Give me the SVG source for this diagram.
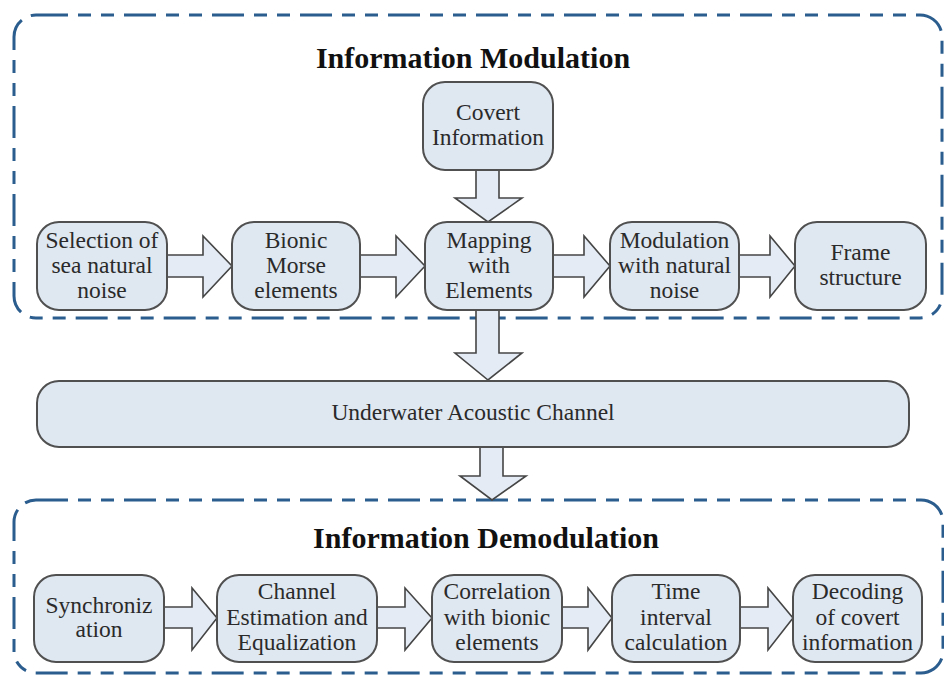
<svg xmlns="http://www.w3.org/2000/svg" width="944" height="675" viewBox="0 0 944 675">
  <style>
    .frame { fill: none; stroke: #2b5d8e; stroke-width: 3; stroke-dasharray: 32 10 13 10 13 10; }
    .box { fill: #dfe7f1; stroke: #505050; stroke-width: 2; }
    .arr { fill: #e4ebf4; stroke: #454545; stroke-width: 1.6; stroke-linejoin: miter; }
    .lbl { font-family: "Liberation Serif", "Times New Roman", serif; font-size: 23.5px; fill: #2a2a2a; text-anchor: middle; }
    .title { font-family: "Liberation Serif", "Times New Roman", serif; font-size: 30px; font-weight: bold; fill: #111; text-anchor: middle; }
  </style>
  <rect width="944" height="675" fill="#ffffff"/>

  <!-- dashed section frames -->
  <g id="modulation-frame">
    <rect class="frame" x="14" y="15" width="928" height="303" rx="22"/>
    <text class="title" x="473" y="68">Information Modulation</text>
  </g>
  <g id="demodulation-frame">
    <rect class="frame" x="14" y="500" width="929" height="173" rx="22"/>
    <text class="title" x="486" y="548">Information Demodulation</text>
  </g>

  <!-- block arrows -->
  <g id="connectors">
    <!-- vertical -->
    <polygon class="arr" points="476,170 499,170 499,198 522,198 488,222 455,198 476,198"/>
    <polygon class="arr" points="476,310 499,310 499,353 522,353 488,380 455,353 476,353"/>
    <polygon class="arr" points="480,447 503,447 503,476 526,476 492,500 460,476 480,476"/>
    <!-- modulation row -->
    <polygon class="arr" points="167,255 203,255 203,236 232,266 203,297 203,277 167,277"/>
    <polygon class="arr" points="360,255 396,255 396,236 425,266 396,297 396,277 360,277"/>
    <polygon class="arr" points="553,255 584,255 584,236 610,266 584,297 584,277 553,277"/>
    <polygon class="arr" points="739,255 770,255 770,236 795,266 770,297 770,277 739,277"/>
    <!-- demodulation row -->
    <polygon class="arr" points="164,607 192,607 192,588 217,618 192,650 192,628 164,628"/>
    <polygon class="arr" points="377,607 405,607 405,588 432,618 405,650 405,628 377,628"/>
    <polygon class="arr" points="562,607 588,607 588,588 612,618 588,650 588,628 562,628"/>
    <polygon class="arr" points="740,607 768,607 768,588 793,618 768,650 768,628 740,628"/>
  </g>

  <!-- modulation nodes -->
  <g id="covert-info">
    <rect class="box" x="423" y="82" width="130" height="88" rx="22"/>
    <text class="lbl" x="488" y="120">Covert</text>
    <text class="lbl" x="488" y="145">Information</text>
  </g>
  <g id="sea-noise">
    <rect class="box" x="37" y="222" width="130" height="88" rx="22"/>
    <text class="lbl" x="102" y="248">Selection of</text>
    <text class="lbl" x="102" y="273">sea natural</text>
    <text class="lbl" x="102" y="298">noise</text>
  </g>
  <g id="bionic-morse">
    <rect class="box" x="232" y="222" width="128" height="88" rx="22"/>
    <text class="lbl" x="296" y="248">Bionic</text>
    <text class="lbl" x="296" y="273">Morse</text>
    <text class="lbl" x="296" y="298">elements</text>
  </g>
  <g id="mapping">
    <rect class="box" x="425" y="222" width="128" height="88" rx="22"/>
    <text class="lbl" x="489" y="248">Mapping</text>
    <text class="lbl" x="489" y="273">with</text>
    <text class="lbl" x="489" y="298">Elements</text>
  </g>
  <g id="noise-modulation">
    <rect class="box" x="610" y="222" width="129" height="88" rx="22"/>
    <text class="lbl" x="674.5" y="248">Modulation</text>
    <text class="lbl" x="674.5" y="273">with natural</text>
    <text class="lbl" x="674.5" y="298">noise</text>
  </g>
  <g id="frame-structure">
    <rect class="box" x="795" y="222" width="131" height="88" rx="22"/>
    <text class="lbl" x="860.5" y="260">Frame</text>
    <text class="lbl" x="860.5" y="285">structure</text>
  </g>

  <!-- channel -->
  <g id="channel">
    <rect class="box" x="37" y="381" width="872" height="66" rx="22"/>
    <text class="lbl" x="473" y="420">Underwater Acoustic Channel</text>
  </g>

  <!-- demodulation nodes -->
  <g id="sync">
    <rect class="box" x="34" y="575" width="130" height="87" rx="22"/>
    <text class="lbl" x="99" y="613">Synchroniz</text>
    <text class="lbl" x="99" y="637">ation</text>
  </g>
  <g id="channel-estimation">
    <rect class="box" x="217" y="575" width="160" height="87" rx="22"/>
    <text class="lbl" x="297" y="599">Channel</text>
    <text class="lbl" x="297" y="625">Estimation and</text>
    <text class="lbl" x="297" y="650">Equalization</text>
  </g>
  <g id="correlation">
    <rect class="box" x="432" y="575" width="130" height="87" rx="22"/>
    <text class="lbl" x="497" y="599">Correlation</text>
    <text class="lbl" x="497" y="625">with bionic</text>
    <text class="lbl" x="497" y="650">elements</text>
  </g>
  <g id="time-interval">
    <rect class="box" x="612" y="575" width="128" height="87" rx="22"/>
    <text class="lbl" x="676" y="599">Time</text>
    <text class="lbl" x="676" y="625">interval</text>
    <text class="lbl" x="676" y="650">calculation</text>
  </g>
  <g id="decoding">
    <rect class="box" x="793" y="575" width="129" height="87" rx="22"/>
    <text class="lbl" x="857.5" y="599">Decoding</text>
    <text class="lbl" x="857.5" y="625">of covert</text>
    <text class="lbl" x="857.5" y="650">information</text>
  </g>
</svg>
